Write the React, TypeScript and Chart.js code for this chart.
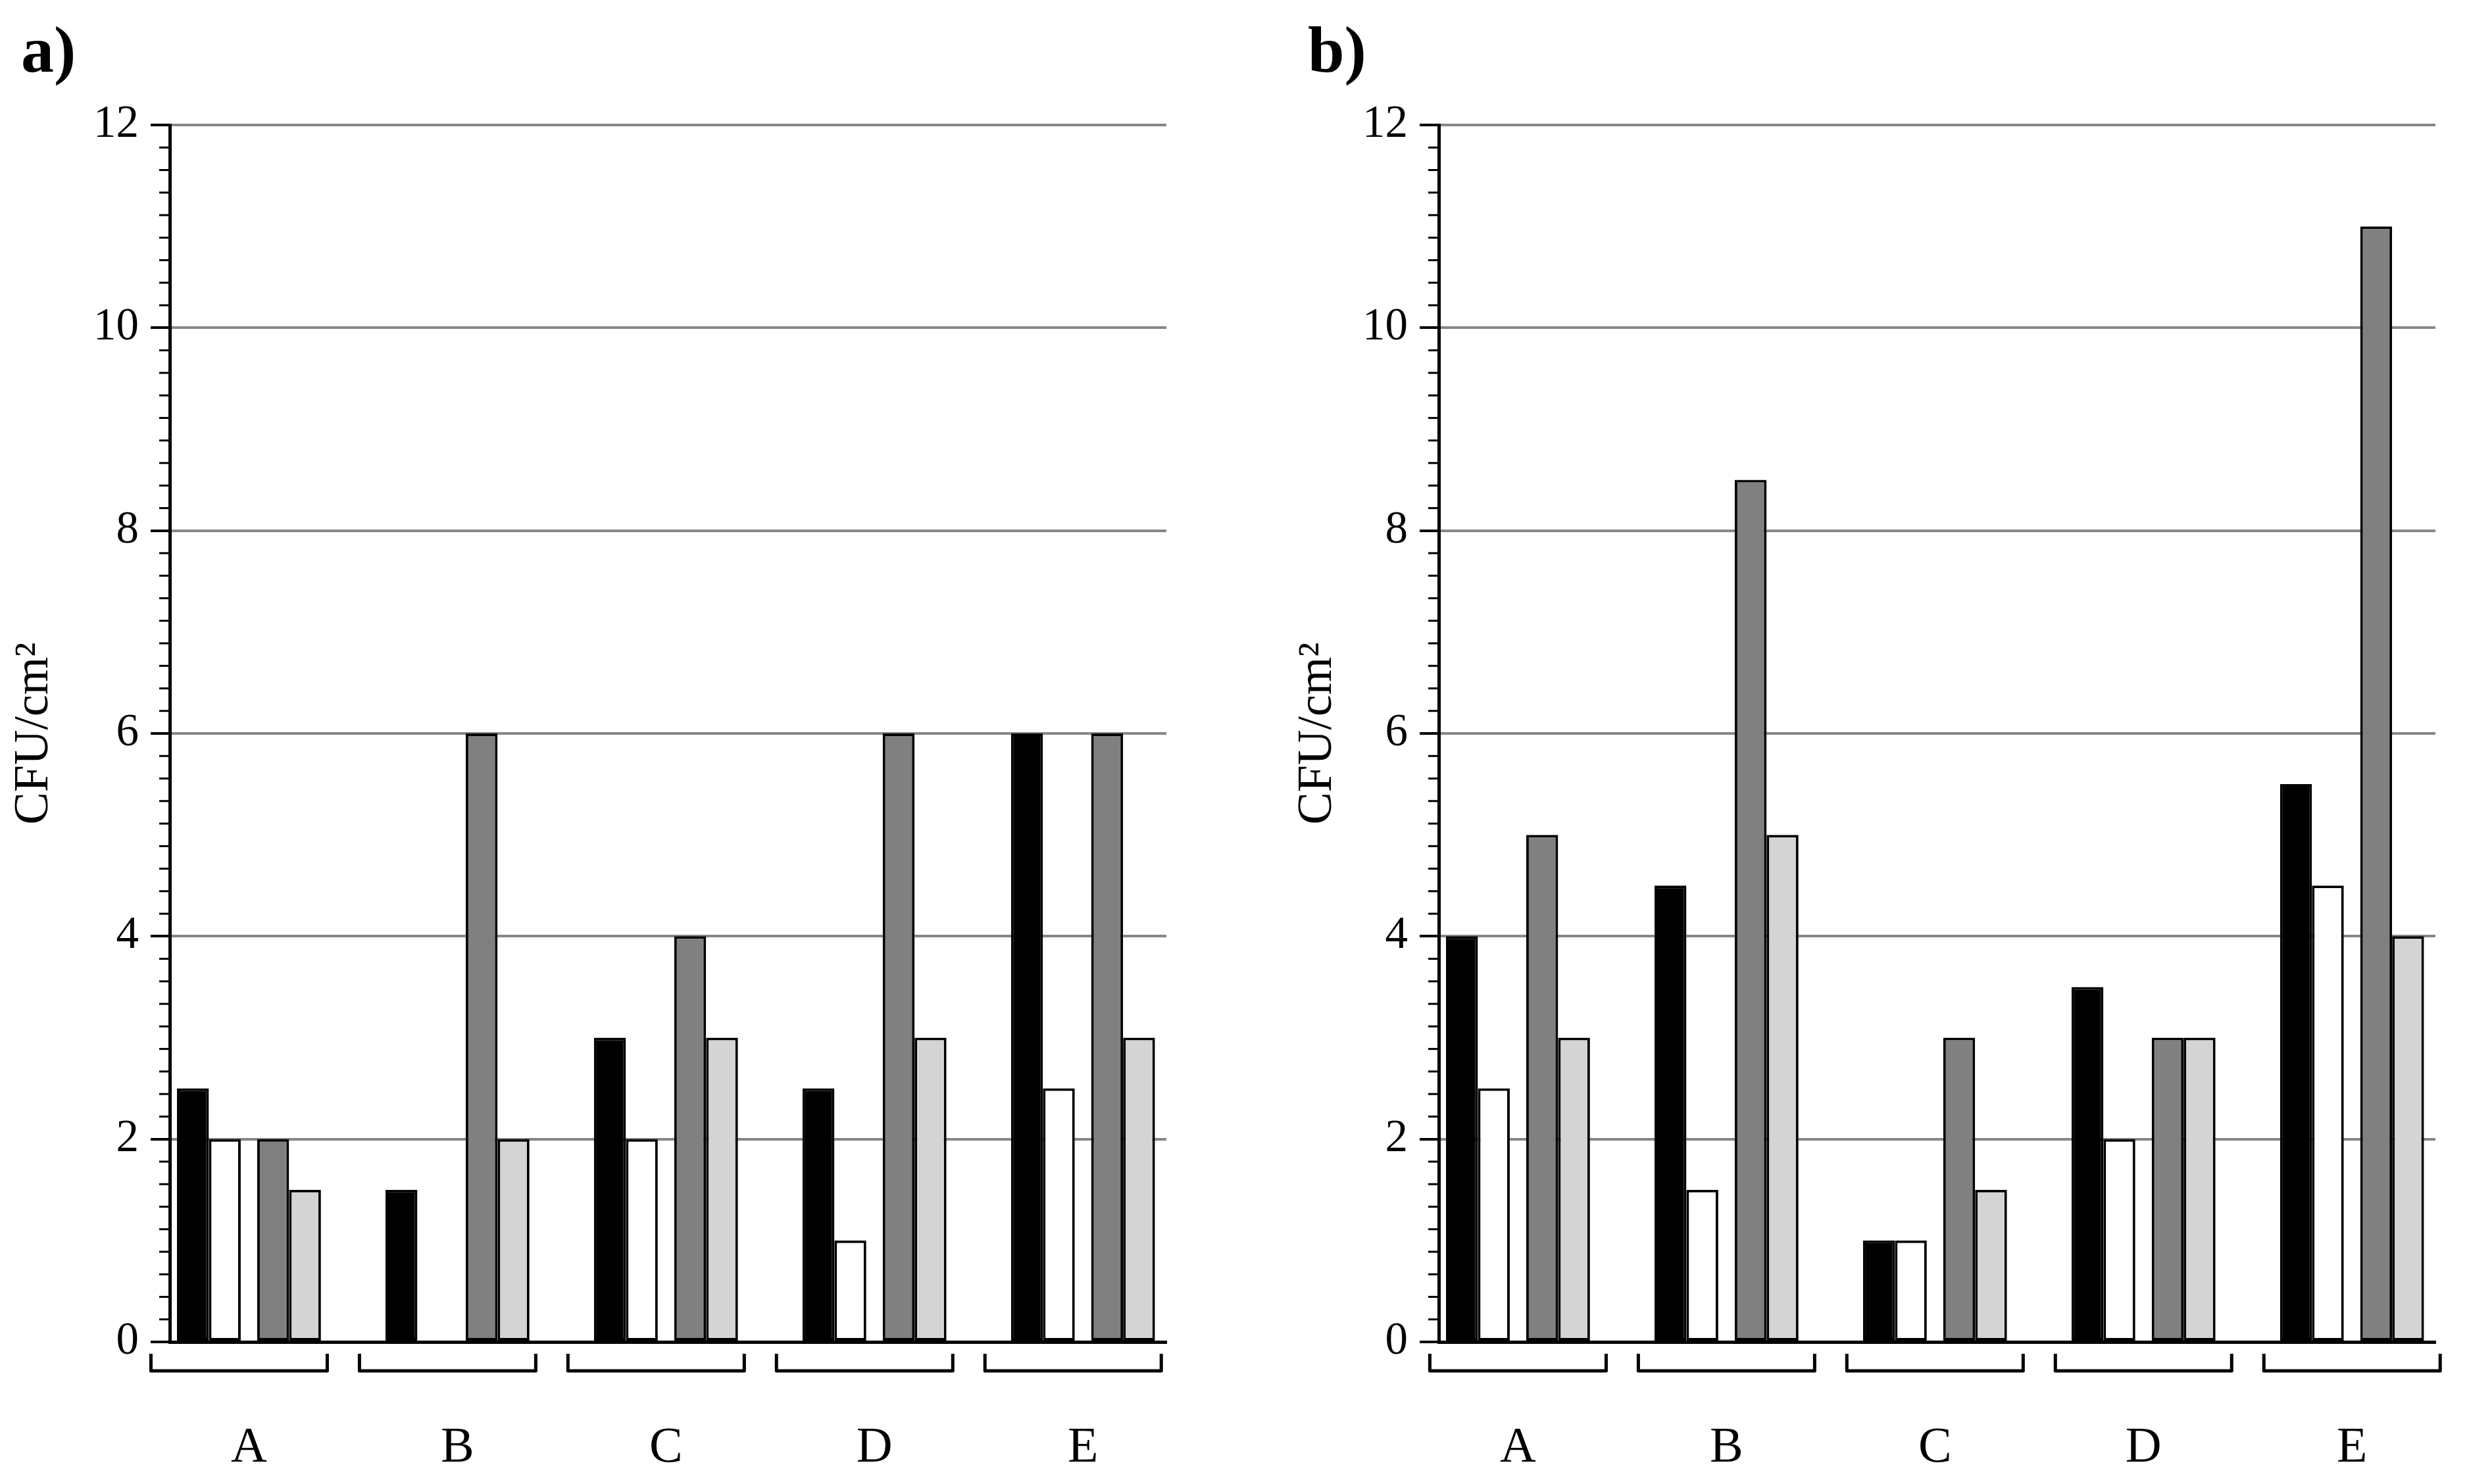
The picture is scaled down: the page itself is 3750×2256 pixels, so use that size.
import React, { useEffect, useRef } from "react";
import { Chart, registerables } from "chart.js";

Chart.register(...registerables);

// ---- data ----
const categories = ["A", "B", "C", "D", "E"];
const yTickValues = [0, 2, 4, 6, 8, 10, 12];
const seriesNames = ["Series 1", "Series 2", "Series 3", "Series 4"];

// panel a)
const aBlack = [2.5, 1.5, 3, 2.5, 6];
const aWhite = [2, 0, 2, 1, 2.5];
const aGray = [2, 6, 4, 6, 6];
const aLight = [1.5, 2, 3, 3, 3];

// panel b)
const bBlack = [4, 4.5, 1, 3.5, 5.5];
const bWhite = [2.5, 1.5, 1, 2, 4.5];
const bGray = [5, 8.5, 3, 3, 11];
const bLight = [3, 5, 1.5, 3, 4];

// ---- look ----
const FONT = '"Liberation Serif", "Times New Roman", serif';
const MINOR_STEP = 2 / 9;
const CANVAS_W = 1821;
const CANVAS_H = 2256;

// black | white  gap  gray | light : per-series slot settings
const seriesStyle = [
  { fill: "#000000", cat: 0.7167, bar: 0.8533 },
  { fill: "#ffffff", cat: 0.9269, bar: 0.6598 },
  { fill: "#808080", cat: 0.9269, bar: 0.6598 },
  { fill: "#d4d4d4", cat: 0.7167, bar: 0.8533 },
];

const axisDecor = {
  id: "axisDecor",
  afterDraw(chart: any, _args: any, opts: any) {
    const { ctx, chartArea, scales } = chart;
    const x = scales.x;
    const y = scales.y;
    ctx.save();
    ctx.strokeStyle = "#000";

    // minor ticks on the value axis
    ctx.lineWidth = 3;
    const count = Math.round(y.max / MINOR_STEP);
    for (let k = 1; k < count; k++) {
      if (k % 9 === 0) continue;
      const py = y.getPixelForValue(k * MINOR_STEP);
      ctx.beginPath();
      ctx.moveTo(chartArea.left - 16, py);
      ctx.lineTo(chartArea.left, py);
      ctx.stroke();
    }

    // brackets under each group
    ctx.lineWidth = 5;
    ctx.lineJoin = "round";
    const half = 134;
    const top = chartArea.bottom + 18;
    const bottom = chartArea.bottom + 44;
    categories.forEach((_, i) => {
      const cx = x.getPixelForValue(i) + opts.bracketShift;
      ctx.beginPath();
      ctx.moveTo(cx - half, top);
      ctx.lineTo(cx - half, bottom);
      ctx.lineTo(cx + half, bottom);
      ctx.lineTo(cx + half, top);
      ctx.stroke();
    });

    // panel letter
    ctx.fillStyle = "#000";
    ctx.font = `bold 100px ${FONT}`;
    ctx.textBaseline = "alphabetic";
    ctx.fillText(opts.label, opts.labelX, 109);
    ctx.restore();
  },
};

type PanelProps = {
  label: string;
  series: number[][];
  left: number;
  labelX: number;
  titlePad: number;
  bracketShift: number;
};

const Panel = ({ label, series, left, labelX, titlePad, bracketShift }: PanelProps) => {
  const canvasRef = useRef<HTMLCanvasElement>(null);
  const chartRef = useRef<Chart | null>(null);

  useEffect(() => {
    if (chartRef.current) chartRef.current.destroy();
    const ctx = canvasRef.current!.getContext("2d")!;

    chartRef.current = new Chart(ctx, {
      type: "bar",
      data: {
        datasets: series.map((values, s) => ({
          label: seriesNames[s],
          data: values.map((v, i) => ({ x: i, y: v })),
          backgroundColor: seriesStyle[s].fill,
          borderColor: "#000",
          borderWidth: 4,
          borderSkipped: false,
          categoryPercentage: seriesStyle[s].cat,
          barPercentage: seriesStyle[s].bar,
        })),
      },
      options: {
        animation: false,
        responsive: false,
        devicePixelRatio: 1,
        layout: { padding: { top: 190, right: 48, bottom: 0, left: 0 } },
        plugins: {
          legend: { display: false },
          tooltip: { enabled: false },
          axisDecor: { label, labelX, bracketShift },
        } as any,
        scales: {
          x: {
            type: "linear",
            min: -0.38,
            max: 4.4,
            offset: false,
            afterBuildTicks: (s: any) => {
              s.ticks = categories.map((_, i) => ({ value: i }));
            },
            afterFit: (s: any) => {
              s.height = 216;
            },
            grid: { display: false, drawTicks: false, offset: false },
            border: { display: true, color: "#000", width: 5 },
            ticks: {
              callback: (v: any) => categories[v],
              padding: 116,
              autoSkip: false,
              maxRotation: 0,
              color: "#000",
              font: { family: FONT, size: 76 },
            },
          },
          y: {
            min: 0,
            max: 12,
            afterBuildTicks: (s: any) => {
              s.ticks = yTickValues.map((v) => ({ value: v }));
            },
            afterFit: (s: any) => {
              s.width = 258;
            },
            grid: {
              color: (c: any) => (c.tick && c.tick.value === 0 ? "#000" : "#878787"),
              lineWidth: 4,
              tickColor: "#000",
              tickWidth: 4,
              tickLength: 29,
            },
            border: { color: "#000", width: 5 },
            ticks: {
              padding: 18,
              color: "#000",
              font: { family: FONT, size: 69 },
            },
            title: {
              display: true,
              text: "CFU/cm²",
              color: "#000",
              font: { family: FONT, size: 74 },
              padding: { top: titlePad, bottom: 0 },
            },
          },
        },
      },
      plugins: [axisDecor],
    });

    return () => {
      if (chartRef.current) {
        chartRef.current.destroy();
        chartRef.current = null;
      }
    };
  }, []);

  return (
    <div style={{ position: "absolute", left, top: 0, width: CANVAS_W, height: CANVAS_H }}>
      <canvas ref={canvasRef} width={CANVAS_W} height={CANVAS_H} />
    </div>
  );
};

export default function App() {
  return (
    <div
      style={{
        position: "absolute",
        left: 0,
        top: 0,
        width: 3750,
        height: 2256,
        overflow: "hidden",
        background: "#fff",
      }}
    >
      <Panel
        label="a)"
        series={[aBlack, aWhite, aGray, aLight]}
        left={0}
        labelX={32}
        titlePad={8}
        bracketShift={-15}
      />
      <Panel
        label="b)"
        series={[bBlack, bWhite, bGray, bLight]}
        left={1929}
        labelX={59}
        titlePad={30}
        bracketShift={0}
      />
    </div>
  );
}
